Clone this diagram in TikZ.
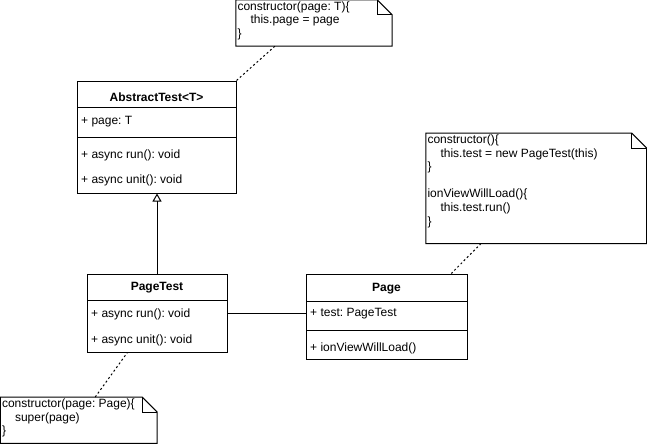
\documentclass[tikz,border=0pt]{standalone}
\usepackage{fontspec}
\setmainfont{Liberation Sans}
\frenchspacing
\usetikzlibrary{arrows.meta,calc}
\tikzset{
  box/.style={draw,line width=1pt,inner sep=0pt,rectangle},
  hdr/.style={font=\fontsize{12}{14}\selectfont\bfseries,inner sep=0pt},
  item/.style={anchor=west,inner sep=0pt},
  notearea/.style={inner sep=0pt,rectangle},
  notetext/.style={anchor=north west,align=left,inner xsep=1.5pt,inner ysep=1.5pt,font=\fontsize{12}{13.6}\selectfont},
  noteline/.style={line width=1pt,line join=miter},
  dotline/.style={line width=1pt,dash pattern=on 2pt off 2.5pt},
  inherit/.style={line width=1pt,-{Triangle[open,width=9pt,length=8pt]}},
}
\newcommand{\dognote}[1]{%
  \draw[noteline] (#1.north west) -- ($(#1.north east)+(-15,0)$) -- ($(#1.north east)+(0,15)$) -- (#1.south east) -- (#1.south west) -- cycle;
  \draw[noteline] ($(#1.north east)+(-15,0)$) -- ($(#1.north east)+(-15,15)$) -- ($(#1.north east)+(0,15)$);
}
\begin{document}
\begin{tikzpicture}[x=1pt,y=-1pt,font=\fontsize{12}{14}\selectfont\frenchspacing]
\useasboundingbox (0,0) rectangle (647,444);
% AbstractTest
\node[box,minimum width=159pt,minimum height=112pt] (at) at (156.5,137) {};
\draw[line width=1pt] (77,107) -- (236,107);
\draw[line width=1pt] (77,137) -- (236,137);
\node[hdr] (atn) at (156.5,97) {AbstractTest<T>};
\node[item] (ata) at (81,122) {+ page: T};
\node[item] (atr) at (81,155) {+ async run(): void};
\node[item] (atu) at (81,180) {+ async unit(): void};
% PageTest
\node[box,minimum width=140pt,minimum height=78pt] (pt) at (157,313) {};
\draw[line width=1pt] (87,300.5) -- (227,300.5);
\node[hdr] (ptn) at (157,287.5) {PageTest};
\node[item] (ptr) at (91,314) {+ async run(): void};
\node[item] (ptu) at (91,340) {+ async unit(): void};
% Page
\node[box,minimum width=161pt,minimum height=85pt] (pg) at (386.5,316.5) {};
\draw[line width=1pt] (306,301) -- (467,301);
\draw[line width=1pt] (306,330.5) -- (467,330.5);
\node[hdr] (pgn) at (386.5,289) {Page};
\node[item] (pga) at (310,313.5) {+ test: PageTest};
\node[item] (pgm) at (310,348) {+ ionViewWillLoad()};
% Notes
\node[notearea,minimum width=156pt,minimum height=46pt] (n1) at (314,23) {};
\dognote{n1}
\node[notetext] (n1t) at (n1.north west) {constructor(page: T)\{\\\hspace{13pt}this.page = page\\\}};
\node[notearea,minimum width=156.5pt,minimum height=46pt] (n2) at (78.75,420.25) {};
\dognote{n2}
\node[notetext] (n2t) at (n2.north west) {constructor(page: Page)\{\\\hspace{13pt}super(page)\\\}};
\node[notearea,minimum width=220.5pt,minimum height=110pt] (n3) at (536.25,188.3) {};
\dognote{n3}
\node[notetext] (n3t) at (n3.north west) {constructor()\{\\\hspace{13pt}this.test = new PageTest(this)\\\}\\[13.6pt]ionViewWillLoad()\{\\\hspace{13pt}this.test.run()\\\}};
% Connectors
\draw[inherit] (pt.north) -- (pt.north |- at.south);
\draw[line width=1pt] (pt.east) -- (pt.east -| pg.west);
\draw[dotline] ($(n1.south west)!0.25!(n1.south east)$) -- (at.north east);
\draw[dotline] ($(n2.north west)!0.605!(n2.north east)$) -- ($(pt.south west)!0.29!(pt.south east)$);
\draw[dotline] ($(n3.south west)!0.25!(n3.south east)$) -- ($(pg.north west)!0.9!(pg.north east)$);
\end{tikzpicture}
\end{document}
